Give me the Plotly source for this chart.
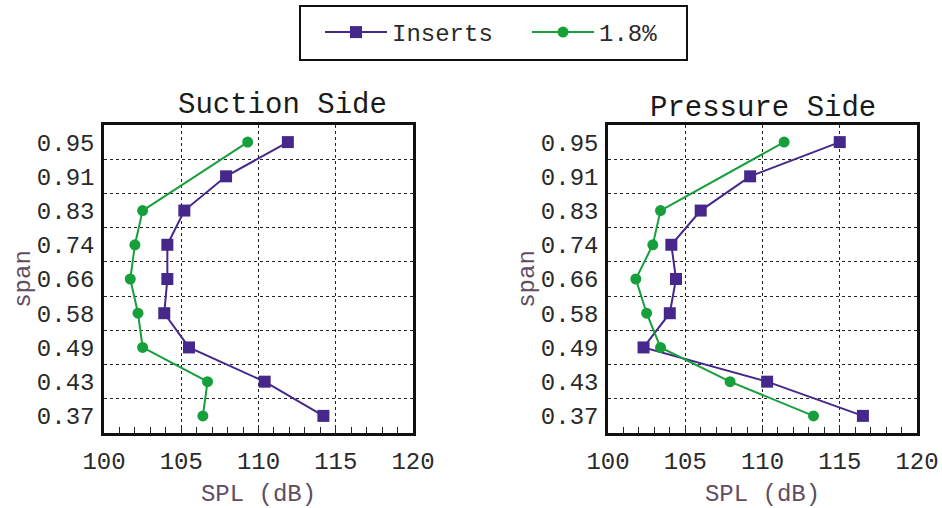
import plotly.graph_objects as go

span_all = ["0.95", "0.91", "0.83", "0.74", "0.66", "0.58", "0.49", "0.43", "0.37"]
span_green = ["0.95", "0.83", "0.74", "0.66", "0.58", "0.49", "0.43", "0.37"]

suction_inserts = [111.9, 107.9, 105.2, 104.1, 104.1, 103.9, 105.5, 110.4, 114.2]
suction_18 = [109.3, 102.5, 102.0, 101.7, 102.2, 102.5, 106.7, 106.4]

pressure_inserts = [115.0, 109.2, 106.0, 104.1, 104.4, 104.0, 102.3, 110.3, 116.5]
pressure_18 = [111.4, 103.4, 102.9, 101.8, 102.5, 103.4, 107.9, 113.3]

titles = ["Suction Side", "Pressure Side"]
x_ticks = [100, 105, 110, 115, 120]

PURPLE = "#46288c"
GREEN = "#16a03c"
FONT = "Liberation Mono"
TXT = "#2a2a2a"
AX = "#5e4e60"

fig = go.Figure()

def add(x, y, name, color, symbol, size, xa, ya, show):
    fig.add_trace(go.Scatter(
        x=x, y=y, name=name, mode="lines+markers",
        line=dict(color=color, width=2),
        marker=dict(color=color, symbol=symbol, size=size),
        xaxis=xa, yaxis=ya, showlegend=show, legendgroup=name))

add(suction_inserts, span_all, "Inserts", PURPLE, "square", 12, "x", "y", True)
add(suction_18, span_green, "1.8%", GREEN, "circle", 11, "x", "y", True)
add(pressure_inserts, span_all, "Inserts", PURPLE, "square", 12, "x2", "y2", False)
add(pressure_18, span_green, "1.8%", GREEN, "circle", 11, "x2", "y2", False)

W, H = 942, 508
ydom = [(H - 433) / H, (H - 125) / H]

xcommon = dict(
    range=[100, 120], tickvals=x_ticks, ticks="inside", ticklen=6, tickwidth=1,
    tickcolor="#222", showline=True, linecolor="#111", linewidth=2.5, mirror=True,
    showgrid=True, gridcolor="#222", griddash="dot", gridwidth=1,
    minor=dict(dtick=1, ticks="inside", ticklen=6, tickcolor="#222", showgrid=False),
    tickfont=dict(family=FONT, size=24, color=TXT), ticklabelstandoff=4,
    title=dict(text="SPL (dB)", font=dict(family=FONT, size=24, color=AX), standoff=10),
    zeroline=False, automargin=False,
)
ycommon = dict(
    type="category", categoryorder="array", categoryarray=list(reversed(span_all)),
    range=[-0.5, 8.5], tickson="boundaries", ticks="", showgrid=True,
    gridcolor="#222", griddash="dot", gridwidth=1,
    showline=True, linecolor="#111", linewidth=2.5, mirror=True,
    tickfont=dict(family=FONT, size=24, color=TXT), ticklabelstandoff=2,
    title=dict(text="span", font=dict(family=FONT, size=24, color=AX), standoff=0),
    zeroline=False, automargin=False,
)

fig.update_layout(
    width=W, height=H, margin=dict(l=0, r=0, t=0, b=0),
    plot_bgcolor="white", paper_bgcolor="white",
    font=dict(family=FONT, size=24, color=TXT),
    xaxis=dict(domain=[104 / W, 413 / W], anchor="y", **xcommon),
    xaxis2=dict(domain=[608 / W, 917 / W], anchor="y2", **xcommon),
    yaxis=dict(domain=ydom, anchor="x", **ycommon),
    yaxis2=dict(domain=ydom, anchor="x2", **ycommon),
    legend=dict(orientation="h", x=320 / W, xanchor="left", y=1 - 10 / H, yanchor="top",
                borderwidth=0, bgcolor="rgba(0,0,0,0)",
                itemwidth=62, entrywidth=130, entrywidthmode="pixels",
                font=dict(family=FONT, size=24, color=TXT)),
    shapes=[dict(type="rect", xref="paper", yref="paper",
                 x0=300 / W, x1=687 / W, y0=1 - 60 / H, y1=1 - 6 / H,
                 line=dict(color="#111", width=2), fillcolor="rgba(0,0,0,0)")],
    annotations=[
        dict(text=titles[0], x=282 / W, y=1 - 106 / H, xref="paper", yref="paper",
             xanchor="center", yanchor="middle", showarrow=False,
             font=dict(family=FONT, size=29, color="#1a1a1a")),
        dict(text=titles[1], x=763 / W, y=1 - 108 / H, xref="paper", yref="paper",
             xanchor="center", yanchor="middle", showarrow=False,
             font=dict(family=FONT, size=29, color="#1a1a1a")),
    ],
)

fig.write_html("out.html", config={"displayModeBar": False},
               post_script="document.body.style.margin='0';document.body.style.overflow='hidden';")
